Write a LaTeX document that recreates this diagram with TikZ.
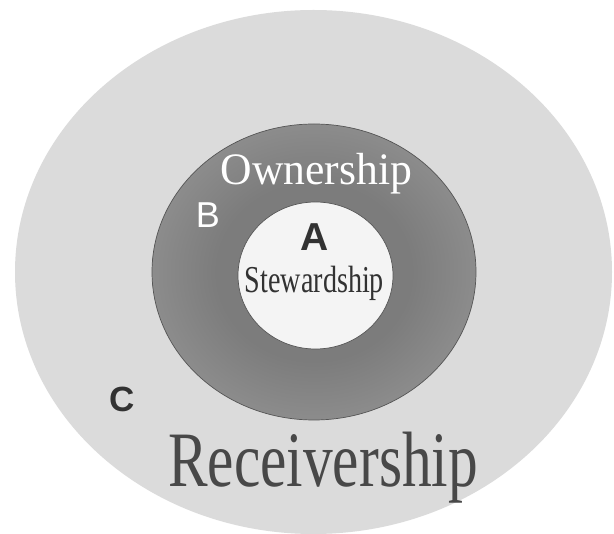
\documentclass[tikz,border=0pt]{standalone}
\usepackage{fontspec}
\setmainfont{Liberation Serif}
\newfontfamily\sansf{Liberation Sans}
\usetikzlibrary{shapes.geometric}
\definecolor{outerC}{RGB}{219,219,219}
\definecolor{midC}{RGB}{148,148,148}
\definecolor{midDark}{RGB}{124,124,124}
\definecolor{innerC}{RGB}{244,244,244}
\definecolor{edgeC}{RGB}{85,85,85}
\definecolor{textC}{RGB}{72,72,72}
\definecolor{darkT}{RGB}{50,50,50}
\pgfdeclareradialshading{ringshade}{\pgfpoint{0bp}{0bp}}{color(0bp)=(midDark); color(15bp)=(midDark); color(30bp)=(midC); color(50bp)=(midC)}
\begin{document}
\begin{tikzpicture}[x=1pt,y=-1pt,
  ring/.style={ellipse, inner sep=0pt},
  lbl/.style={anchor=base, inner sep=0pt}]
\useasboundingbox (0,0) rectangle (614,534);
\fill[white] (0,0) rectangle (614,534);
\node[ring, fill=outerC, minimum width=597pt, minimum height=524pt] (outer) at (313.5,272) {};
\node[ring, shading=ringshade, draw=edgeC, line width=0.7pt, minimum width=324pt, minimum height=296pt] (middle) at (314,272) {};
\node[ring, fill=innerC, draw=edgeC, line width=0.7pt, minimum width=155pt, minimum height=147pt] (inner) at (315.5,275.5) {};
\node[lbl, text=darkT, font=\sansf\bfseries\fontsize{39}{39}\selectfont] (A) at (315,251) {A};
\node[lbl, text=darkT, xscale=0.74, font=\fontsize{38}{38}\selectfont] (stew) at (314.5,293) {Stewardship};
\node[lbl, text=white, xscale=0.97, font=\fontsize{45}{45}\selectfont] (own) at (316.5,185) {Ownership};
\node[lbl, text=white, font=\sansf\fontsize{36}{36}\selectfont] (B) at (208,228) {B};
\node[lbl, text=darkT, font=\sansf\bfseries\fontsize{35}{35}\selectfont] (C) at (122.5,412) {C};
\node[lbl, text=textC, xscale=0.756, font=\fontsize{78.5}{78.5}\selectfont] (recv) at (323,487) {Receivership};
\end{tikzpicture}
\end{document}
